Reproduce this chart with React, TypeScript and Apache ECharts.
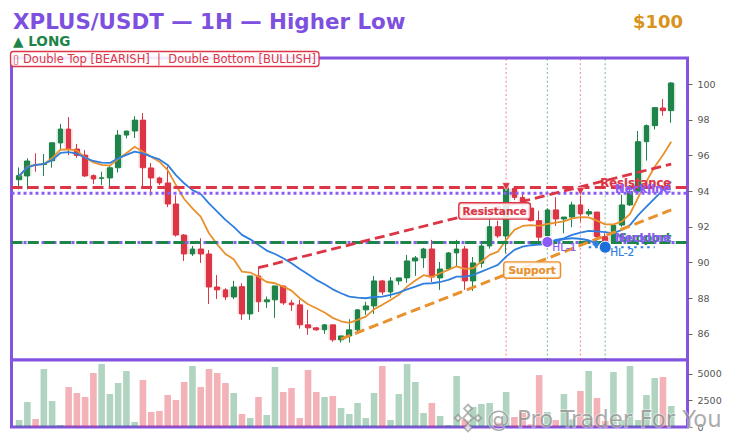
import React, { useEffect, useRef } from "react";
import * as echarts from "echarts";

const opens = [94.64,94.85,95.48,95.50,95.70,96.70,97.48,96.36,96.02,94.87,94.71,94.74,95.31,97.14,97.37,97.98,95.30,94.74,94.46,93.28,91.54,90.48,90.76,90.48,88.63,88.47,88.07,88.65,87.12,89.25,87.80,87.91,88.69,87.74,87.63,86.51,86.34,86.23,86.51,85.67,85.89,86.23,87.35,87.57,88.97,88.35,88.97,89.14,90.09,90.26,90.76,89.14,89.64,90.54,90.76,88.97,89.96,90.93,92.01,91.49,94.15,93.65,93.05,92.35,91.49,92.95,92.44,92.55,93.23,92.72,92.83,91.45,91.17,92.10,93.23,93.97,96.77,97.67,98.66,98.51];
const closes = [94.87,95.69,95.45,95.54,96.71,97.48,96.34,96.00,94.85,94.68,94.75,95.31,97.14,97.37,97.98,95.31,94.74,94.46,93.28,91.54,90.48,90.76,90.48,88.63,88.47,88.07,88.63,87.12,89.25,87.80,87.91,88.69,87.74,87.63,86.51,86.34,86.23,86.51,85.67,85.89,86.23,87.35,87.57,88.97,88.35,88.97,89.14,90.09,90.26,90.76,89.19,89.64,90.54,90.76,88.97,89.98,90.93,92.01,91.49,94.15,93.65,93.28,92.35,91.42,92.95,92.44,92.55,93.23,92.72,92.85,91.45,91.17,92.10,93.23,93.97,96.77,97.67,98.68,98.51,100.06];
const lows = [94.10,94.10,95.09,94.85,95.32,96.30,96.02,95.87,94.79,94.40,94.34,94.21,95.04,96.96,96.98,94.21,93.75,94.34,93.11,91.45,90.09,90.37,89.98,87.68,87.96,87.90,87.96,86.79,86.79,87.23,87.46,86.90,87.63,87.29,86.30,85.95,86.17,86.00,85.56,85.52,85.52,86.00,87.07,87.12,88.19,88.02,88.75,88.86,89.25,89.70,88.91,88.47,89.59,89.75,88.47,88.41,89.72,90.78,91.38,90.52,93.50,92.90,92.30,90.99,91.30,92.05,91.64,91.98,92.29,92.60,91.36,91.10,91.10,92.00,93.17,93.90,95.71,97.46,98.23,97.83];
const highs = [95.33,95.84,96.12,96.08,96.73,97.76,98.15,96.64,96.30,94.94,95.09,95.47,97.42,97.37,98.20,98.38,95.58,94.81,95.39,93.77,91.60,90.93,91.36,90.70,89.30,88.56,88.97,88.84,89.25,89.77,88.09,88.69,88.69,87.91,87.91,87.35,86.40,86.56,86.51,85.89,86.82,87.39,87.80,89.25,89.03,89.19,89.14,90.43,90.37,90.82,91.27,90.03,90.59,91.27,90.93,90.31,91.04,92.53,92.35,94.30,94.20,93.90,93.30,92.90,93.04,93.66,92.55,93.41,93.80,93.00,92.83,91.64,92.10,93.80,94.35,97.37,97.74,98.71,99.16,100.11];
const volumes = [660,2360,755,5470,2450,190,3770,3210,2830,5095,5940,3110,4150,5280,470,4430,1415,1510,3020,2550,4245,5755,3770,5470,5095,4150,3210,1225,850,2830,1130,5660,3300,3680,850,5380,3300,2830,2925,1790,1225,2265,850,3210,5755,660,3110,5940,4245,1320,2265,1040,190,4810,720,1890,2170,2265,410,3300,945,1350,250,4900,1415,660,3110,720,3400,5280,2735,570,5190,660,5755,660,3020,4620,4715,1980];
const emaFast = [94.81,95.37,95.47,95.52,95.84,96.32,96.34,96.27,95.89,95.61,95.47,95.43,95.80,96.12,96.49,96.21,95.93,95.65,95.18,94.34,93.56,93.04,92.57,91.64,91.02,90.48,90.18,89.49,89.44,89.21,88.91,88.84,88.65,88.43,88.00,87.66,87.44,87.20,86.90,86.71,86.62,86.79,86.97,87.38,87.63,87.90,88.19,88.65,88.99,89.29,89.19,89.40,89.59,89.79,89.64,89.68,90.05,90.43,90.61,91.27,91.83,92.05,92.10,92.05,92.16,92.24,92.31,92.48,92.55,92.53,92.35,92.14,92.14,92.29,92.72,93.65,94.55,95.37,96.02,96.77];
const emaSlow = [94.85,95.33,95.47,95.52,95.74,96.14,96.19,96.10,95.87,95.69,95.60,95.58,95.84,96.03,96.21,96.12,95.93,95.78,95.47,94.90,94.44,94.06,93.84,93.32,92.85,92.39,92.00,91.55,91.30,90.99,90.67,90.48,90.24,89.96,89.64,89.34,89.03,88.78,88.50,88.28,88.09,88.04,88.00,88.07,88.09,88.19,88.32,88.50,88.65,88.82,88.84,88.91,89.03,89.21,89.21,89.30,89.49,89.68,89.87,90.33,90.71,90.89,90.97,91.00,91.04,91.27,91.36,91.55,91.68,91.77,91.75,91.71,91.64,91.83,92.10,92.66,93.13,93.60,94.07,94.53];

const priceTicks = [86, 88, 90, 92, 94, 96, 98, 100];
const volumeTicks = [0, 2500, 5000];
const xIndex = opens.map((_, i) => i);

const resistanceLevel = 94.2;
const necklineLevel = 93.88;
const supportLevel = 91.13;
const resistanceTrend = [[29, 89.71], [79, 95.52]];
const supportTrend = [[39, 85.72], [79, 92.95]];
const redMarks = [59, 68];
const greenMarks = [64, 71];
const topMarkers = [[59, 94.25], [68, 93.97]];
const hl1 = [64, 91.15];
const hl2 = [71, 90.86];
const arrowCurve = [[65, 91.2], [67, 91.36], [69, 91.24], [69.9, 91.04]];
const hlDotted = [[69, 90.86], [77, 90.86]];

const X_MIN = -0.92, X_MAX = 80.97, Y_MIN = 84.54, Y_MAX = 101.46, V_MAX = 6320;
const GREEN = "#1e8449", RED = "#dc3545", PURPLE = "#8b5cf6", FRAME = "#8354e0", ORANGE = "#e8912d", BLUE = "#2f7fe0";

const hline = (y: number, color: string, dash: number[], w = 3) => ({
  type: "line", data: [[X_MIN, y], [X_MAX, y]], symbol: "none", silent: true, z: 5,
  lineStyle: { color, width: w, type: dash },
});
const vline = (x: number, color: string) => ({
  type: "line", data: [[x, Y_MIN], [x, Y_MAX]], symbol: "none", silent: true, z: 1,
  lineStyle: { color, width: 1.2, type: [2, 2.4] },
});
const textMark = (x: number, y: number, text: string, color: string, fontSize: number, align: string, weight = "bold", box?: any) => ({
  type: "scatter", symbolSize: 0, silent: true, z: 9, data: [[x, y]], itemStyle: { opacity: 1 },
  label: {
    show: true, formatter: text, position: [0, 0], align, verticalAlign: "middle", opacity: 1,
    color, fontSize, fontWeight: weight, fontFamily: "DejaVu Sans", textBorderWidth: 0.2, textBorderColor: color, ...(box || {}),
  },
});

export default function App() {
  const ref = useRef<HTMLDivElement>(null);
  useEffect(() => {
    const chart = echarts.init(ref.current!, undefined, { renderer: "svg" });
    const upDown = xIndex.map((i) => closes[i] >= opens[i]);
    const logoGrey = "rgba(120,120,120,0.55)";
    const diamond = (cx: number, cy: number, r: number) => ({
      type: "polygon",
      shape: { points: [[cx, cy - r], [cx + r, cy], [cx, cy + r], [cx - r, cy]] },
      style: { fill: "rgba(255,255,255,0.75)", stroke: logoGrey, lineWidth: 1.8 },
      z: 20,
    });
    chart.setOption({
      animation: false,
      grid: [
        { left: 11.5, top: 58, width: 676, height: 302, show: true, borderColor: FRAME, borderWidth: 3, backgroundColor: "#fff" },
        { left: 11.5, top: 360, width: 676, height: 67, show: true, borderColor: FRAME, borderWidth: 3, backgroundColor: "#fff" },
      ],
      xAxis: [
        { type: "value", gridIndex: 0, min: X_MIN, max: X_MAX, show: false },
        { type: "value", gridIndex: 1, min: X_MIN, max: X_MAX, show: false },
      ],
      yAxis: [
        {
          type: "value", gridIndex: 0, min: Y_MIN, max: Y_MAX, position: "right", scale: true,
          axisLine: { show: false, onZero: false }, splitLine: { show: false },
          axisTick: { show: true, length: 5, customValues: priceTicks, lineStyle: { color: "#666" } },
          axisLabel: { customValues: priceTicks, color: "#555", fontSize: 9.5, fontFamily: "DejaVu Sans", margin: 10 },
        },
        {
          type: "value", gridIndex: 1, min: 0, max: V_MAX, position: "right",
          axisLine: { show: false, onZero: false }, splitLine: { show: false },
          axisTick: { show: true, length: 5, customValues: volumeTicks, lineStyle: { color: "#666" } },
          axisLabel: { customValues: volumeTicks, color: "#555", fontSize: 9.5, fontFamily: "DejaVu Sans", margin: 10, formatter: (v: number) => String(v) },
        },
      ],
      series: [
        ...redMarks.map((x) => vline(x, "rgba(220,53,69,0.5)")),
        ...greenMarks.map((x) => vline(x, "rgba(30,132,73,0.5)")),
        {
          type: "candlestick", barWidth: 8.5, silent: true, z: 2,
          encode: { x: 0, y: [1, 2, 3, 4] },
          data: xIndex.map((i) => [i, opens[i], closes[i], Math.min(opens[i], closes[i]), Math.max(opens[i], closes[i])]),
          itemStyle: { color: "rgba(30,132,73,0.2)", color0: "rgba(220,53,69,0.22)", borderColor: "rgba(30,132,73,0)", borderColor0: "rgba(220,53,69,0)", borderWidth: 0 },
        },
        {
          type: "candlestick", barWidth: 5.2, silent: true, z: 3,
          encode: { x: 0, y: [1, 2, 3, 4] },
          data: xIndex.map((i) => [i, opens[i], closes[i], lows[i], highs[i]]),
          itemStyle: { color: GREEN, color0: RED, borderColor: GREEN, borderColor0: RED, borderWidth: 1 },
        },
        { type: "line", data: xIndex.map((i) => [i, emaFast[i]]), symbol: "none", silent: true, z: 4, lineStyle: { color: ORANGE, width: 1.8 } },
        { type: "line", data: xIndex.map((i) => [i, emaSlow[i]]), symbol: "none", silent: true, z: 4, lineStyle: { color: BLUE, width: 1.8 } },
        hline(necklineLevel, PURPLE, [3, 3]),
        hline(supportLevel, PURPLE, [3, 3]),
        hline(resistanceLevel, RED, [11, 5.2]),
        hline(supportLevel, GREEN, [11, 5.2]),
        { type: "line", data: resistanceTrend, symbol: "none", silent: true, z: 5, lineStyle: { color: RED, width: 2.8, type: [10, 5] } },
        { type: "line", data: supportTrend, symbol: "none", silent: true, z: 5, lineStyle: { color: ORANGE, width: 3, type: [10, 5] } },
        { type: "line", data: hlDotted, symbol: "none", silent: true, z: 6, lineStyle: { color: BLUE, width: 2, type: [2.5, 4] } },
        { type: "line", data: arrowCurve, smooth: true, symbol: "none", silent: true, z: 6, lineStyle: { color: BLUE, width: 2 } },
        { type: "scatter", data: [arrowCurve[3]], symbol: "diamond", symbolSize: 8, silent: true, z: 7, itemStyle: { color: BLUE, opacity: 1 } },
        { type: "scatter", data: topMarkers, symbol: "triangle", symbolRotate: 180, symbolSize: 8, silent: true, z: 7, itemStyle: { color: RED, borderColor: "#fff", borderWidth: 0.6, opacity: 1 } },
        { type: "scatter", data: [hl1], symbol: "circle", symbolSize: 11, silent: true, z: 7, itemStyle: { color: PURPLE, borderColor: "#fff", borderWidth: 1, opacity: 1 } },
        { type: "scatter", data: [hl2], symbol: "circle", symbolSize: 12, silent: true, z: 7, itemStyle: { color: "#1a6fdc", borderColor: "#fff", borderWidth: 1, opacity: 1 } },
        textMark(79, 94.43, "Resistance", RED, 11.6, "right"),
        textMark(79, 94.1, "Neckline", PURPLE, 11.6, "right"),
        textMark(79, 91.35, "Support", GREEN, 11.6, "right"),
        textMark(79, 91.35, "Neckline", PURPLE, 11.6, "right"),
        textMark(64.6, 90.85, "HL-1", PURPLE, 10.5, "left", "normal"),
        textMark(71.6, 90.6, "HL-2", BLUE, 10.5, "left", "normal"),
        textMark(57.6, 92.89, "Resistance", RED, 10.5, "center", "bold", {
          backgroundColor: "rgba(255,255,255,0.85)", borderColor: RED, borderWidth: 1.4, borderRadius: 2, padding: [2, 3, 2, 3],
        }),
        textMark(62.15, 89.58, "Support", ORANGE, 10.5, "center", "bold", {
          backgroundColor: "rgba(255,255,255,0.85)", borderColor: ORANGE, borderWidth: 1.4, borderRadius: 2, padding: [2, 4, 2, 4],
        }),
        {
          type: "bar", xAxisIndex: 1, yAxisIndex: 1, barWidth: 6.6, silent: true,
          data: xIndex.map((i) => ({ value: [i, volumes[i]], itemStyle: { color: upDown[i] ? "rgba(30,132,73,0.35)" : "rgba(220,53,69,0.38)" } })),
        },
      ],
      graphic: [
        { type: "text", x: 13, y: 21, style: { text: "XPLUS/USDT — 1H — Higher Low", fill: "#7d50e0", font: "bold 21.4px 'DejaVu Sans'", textVerticalAlign: "middle" }, z: 10 },
        { type: "text", x: 683, y: 21, style: { text: "$100", fill: "#d9921a", font: "bold 18px 'DejaVu Sans'", textAlign: "right", textVerticalAlign: "middle" }, z: 10 },
        { type: "text", x: 13, y: 41, style: { text: "▲ LONG", fill: GREEN, font: "bold 13.6px 'DejaVu Sans'", textVerticalAlign: "middle" }, z: 10 },
        { type: "rect", shape: { x: 10.5, y: 51.5, width: 308.5, height: 15, r: 3 }, style: { fill: "rgba(255,255,255,0.88)", stroke: RED, lineWidth: 1.3 }, z: 11 },
        { type: "text", x: 13, y: 59.3, style: { text: "▯ Double Top [BEARISH]  |  Double Bottom [BULLISH]", fill: RED, font: "11.5px 'DejaVu Sans'", textVerticalAlign: "middle" }, z: 12 },
        diamond(468, 418, 5),
        diamond(458, 418, 3.2),
        diamond(478, 418, 3.2),
        diamond(468, 408.5, 4),
        diamond(468, 427.5, 4),
        { type: "text", x: 487, y: 419, style: { text: "@ Pro Trader For You", fill: "rgba(115,115,115,0.6)", stroke: "rgba(255,255,255,0.5)", lineWidth: 1.5, font: "22.8px 'DejaVu Sans'", textVerticalAlign: "middle" }, z: 20 },
      ],
    });
    return () => chart.dispose();
  }, []);
  return <div ref={ref} style={{ position: "absolute", left: 0, top: 0, width: 732, height: 443 }} />;
}
